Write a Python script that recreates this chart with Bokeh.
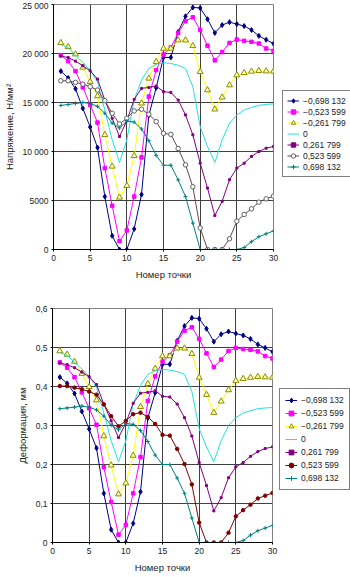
from bokeh.plotting import figure
from bokeh.layouts import column, row
from bokeh.models import Range1d, FixedTicker, Legend, LegendItem
from bokeh.embed import file_html
from bokeh.resources import INLINE

points = list(range(1, 31))
series_labels = ["\u22120,698 132", "\u22120,523 599", "\u22120,261 799", "0",
                 "0,261 799", "0,523 599", "0,698 132"]

stress_n0698 = [18200, 17500, 16400, 14400, 12500, 10400, 5400, 1400, 0, 0, 2100, 5600, 13700, 16500, 19600,
                19600, 22200, 23800, 24700, 24650, 23500, 22100, 22900, 23200, 23000, 22800, 22400, 21800, 21400, 21000]
stress_n0524 = [19830, 19220, 18200, 16540, 14750, 12950, 8300, 4470, 850, 1950, 5400, 9400, 15600, 18300, 19900,
                20600, 22100, 23300, 23700, 22400, 20800, 19300, 20150, 21080, 21420, 21290, 21190, 21020, 20510, 20270]
stress_n0262 = [21090, 20680, 19930, 18580, 17120, 15660, 11700, 8480, 5320, 6510, 9560, 14920, 17460, 19150, 20510,
                20510, 21360, 21360, 20780, 18140, 16270, 14310, 15530, 16780, 17800, 18030, 18170, 18240, 18200, 18170]
stress_0 = [20900, 20600, 19830, 19100, 18300, 17100, 14240, 11190, 8880, 11190, 15250, 17290, 18480, 18900, 19050,
            18980, 18800, 18480, 16610, 12540, 10510, 8880, 11190, 12880, 13730, 14240, 14510, 14710, 14810, 14850]
stress_p0262 = [19730, 19590, 19220, 18750, 18240, 17390, 15250, 13390, 11530, 13150, 15320, 16440, 16540, 16680, 16100,
                16030, 15250, 13730, 11700, 8810, 6270, 3460, 4920, 7120, 8310, 8810, 9490, 10000, 10340, 10510]
stress_p0524 = [17220, 17220, 17050, 16880, 16610, 16270, 15190, 13900, 12810, 13390, 14140, 14310, 13800, 13050, 11850,
                11750, 10300, 8640, 6400, 2200, 0, 0, 0, 1090, 2890, 3570, 4150, 4830, 5170, 5440]
stress_p0698 = [14700, 14800, 14900, 15000, 14900, 14600, 13900, 12900, 12400, 13100, 13000, 12300, 11100, 9600, 8600,
                8600, 7100, 5400, 2700, 0, 0, 0, 0, 0, 0, 200, 800, 1300, 1600, 1900]

deform_n0698 = [0.424, 0.408, 0.382, 0.336, 0.291, 0.242, 0.126, 0.033, 0, 0, 0.049, 0.130, 0.319, 0.384, 0.457,
                0.457, 0.517, 0.555, 0.576, 0.574, 0.548, 0.515, 0.534, 0.541, 0.536, 0.531, 0.522, 0.508, 0.499, 0.489]
deform_n0524 = [0.462, 0.448, 0.424, 0.385, 0.344, 0.302, 0.193, 0.104, 0.020, 0.045, 0.126, 0.219, 0.363, 0.426, 0.464,
                0.480, 0.515, 0.543, 0.552, 0.522, 0.485, 0.450, 0.469, 0.491, 0.499, 0.496, 0.494, 0.490, 0.478, 0.472]
deform_n0262 = [0.491, 0.482, 0.464, 0.433, 0.399, 0.365, 0.273, 0.198, 0.124, 0.152, 0.223, 0.348, 0.407, 0.446, 0.478,
                0.478, 0.498, 0.498, 0.484, 0.423, 0.379, 0.333, 0.362, 0.391, 0.415, 0.420, 0.423, 0.425, 0.424, 0.423]
deform_0 = [0.487, 0.480, 0.462, 0.445, 0.426, 0.398, 0.332, 0.261, 0.207, 0.261, 0.355, 0.403, 0.431, 0.440, 0.444,
            0.442, 0.438, 0.431, 0.387, 0.292, 0.245, 0.207, 0.261, 0.300, 0.320, 0.332, 0.338, 0.343, 0.345, 0.346]
deform_p0262 = [0.460, 0.456, 0.448, 0.437, 0.425, 0.405, 0.355, 0.312, 0.269, 0.306, 0.357, 0.383, 0.385, 0.389, 0.375,
                0.373, 0.355, 0.320, 0.273, 0.205, 0.146, 0.081, 0.115, 0.166, 0.194, 0.205, 0.221, 0.233, 0.241, 0.245]
deform_p0524 = [0.401, 0.401, 0.397, 0.393, 0.387, 0.379, 0.354, 0.324, 0.298, 0.312, 0.329, 0.333, 0.322, 0.304, 0.276,
                0.274, 0.240, 0.201, 0.149, 0.051, 0, 0, 0, 0.025, 0.067, 0.083, 0.097, 0.113, 0.120, 0.127]
deform_p0698 = [0.343, 0.345, 0.347, 0.350, 0.347, 0.340, 0.324, 0.301, 0.289, 0.305, 0.303, 0.287, 0.259, 0.224, 0.200,
                0.200, 0.165, 0.126, 0.063, 0, 0, 0, 0, 0, 0, 0.005, 0.019, 0.030, 0.037, 0.044]

x_ticks = [0, 5, 10, 15, 20, 25, 30]
stress_ticks = [0, 5000, 10000, 15000, 20000, 25000]
stress_tick_labels = ["0", "5000", "10 000", "15 000", "20 000", "25 000"]
deform_ticks = [0, 0.1, 0.2, 0.3, 0.4, 0.5, 0.6]
deform_tick_labels = ["0", "0,1", "0,2", "0,3", "0,4", "0,5", "0,6"]

FONT = "Liberation Sans"

# style per series: line color, marker, marker size, marker line, marker fill
top_styles = [
    ("#000080", "diamond", 5, "#000080", "#000080"),
    ("#FF00FF", "square", 3.5, "#FF00FF", "#FF00FF"),
    ("#FFFF00", "triangle", 6, "#8c8c00", "#ffffb0"),
    ("#22E0E0", None, 0, None, None),
    ("#800080", "square", 2, "#800080", "#800080"),
    ("#6a4646", "circle", 4.5, "#606060", "#ffffff"),
    ("#008080", "cross", 4, "#008080", "#008080"),
]
bottom_styles = [
    ("#000080", "diamond", 5, "#000080", "#000080"),
    ("#FF00FF", "square", 3.5, "#FF00FF", "#FF00FF"),
    ("#FFFF00", "triangle", 6, "#8c8c00", "#ffffb0"),
    ("#22E0E0", None, 0, None, None),
    ("#800080", "square", 2, "#800080", "#800080"),
    ("#800000", "circle", 3.5, "#800000", "#800000"),
    ("#008080", "cross", 4, "#008080", "#008080"),
]


def draw_series(p, xs, vals, st):
    lc, mk, ms, mlc, mfc = st
    rs = [p.line(xs, vals, line_color=lc, line_width=1)]
    if mk is not None:
        rs.append(p.scatter(xs, vals, marker=mk, size=ms, line_color=mlc,
                            fill_color=mfc, line_width=1))
    return rs


def make_fig(series, styles, yticks, ylabels, yend, ytitle, width, height, bl, br, bt, bb):
    p = figure(width=width, height=height, output_backend="svg", toolbar_location=None,
               x_range=Range1d(0, 30), y_range=Range1d(0, yend),
               min_border_left=bl, min_border_right=br, min_border_top=bt, min_border_bottom=bb)
    p.background_fill_color = "white"
    p.border_fill_color = "white"
    p.outline_line_color = "#808080"
    for vals, st in zip(series, styles):
        draw_series(p, points, vals, st)
    p.xaxis.ticker = FixedTicker(ticks=x_ticks)
    p.yaxis.ticker = FixedTicker(ticks=yticks)
    p.yaxis.major_label_overrides = {t: l for t, l in zip(yticks, ylabels)}
    for ax in (p.xaxis[0], p.yaxis[0]):
        ax.axis_line_color = "black"
        ax.major_tick_line_color = "black"
        ax.major_tick_out = 2
        ax.major_tick_in = 0
        ax.minor_tick_line_color = None
        ax.major_label_text_font = FONT
        ax.major_label_text_font_size = "8.5px"
        ax.major_label_text_color = "#222222"
        ax.major_label_standoff = 3
        ax.axis_label_text_font = FONT
        ax.axis_label_text_font_size = "9.5px"
        ax.axis_label_text_font_style = "normal"
        ax.axis_label_text_color = "#222222"
        ax.axis_label_standoff = 5
    p.xaxis.axis_label = "Номер точки"
    p.yaxis.axis_label = ytitle
    p.xgrid.grid_line_color = "#404040"
    p.ygrid.grid_line_color = "#404040"
    return p


def make_legend_fig(styles, width, height, bt, bb, loc, label_h, spacing, padding):
    # same top/bottom borders as the chart beside it, so the two frames line up
    q = figure(width=width, height=height, output_backend="svg", toolbar_location=None,
               x_range=Range1d(0, 1), y_range=Range1d(0, 1),
               x_axis_location=None, y_axis_location=None,
               min_border_left=0, min_border_right=0, min_border_top=bt, min_border_bottom=bb)
    q.outline_line_color = None
    q.xgrid.visible = False
    q.ygrid.visible = False
    q.background_fill_color = "white"
    q.border_fill_color = "white"
    items = []
    for st, lab in zip(styles, series_labels):
        # samples kept outside the visible range: only the legend glyphs are shown
        rs = draw_series(q, [-5, -4], [-5, -4], st)
        items.append(LegendItem(label=lab, renderers=rs))
    leg = Legend(items=items, location=loc)
    leg.border_line_color = "black"
    leg.border_line_width = 1
    leg.background_fill_color = "white"
    leg.background_fill_alpha = 1
    leg.label_text_font = FONT
    leg.label_text_font_size = "8.5px"
    leg.label_text_color = "#222222"
    leg.glyph_width = 12
    leg.glyph_height = label_h
    leg.label_height = label_h
    leg.spacing = spacing
    leg.padding = padding
    leg.margin = 0
    leg.label_standoff = 4
    q.add_layout(leg)
    return q


top = make_fig([stress_n0698, stress_n0524, stress_n0262, stress_0, stress_p0262, stress_p0524, stress_p0698],
               top_styles, stress_ticks, stress_tick_labels, 25000, "Напряжение, Н/мм²",
               280, 283, 49, 7, 4, 34)
top_leg = make_legend_fig(top_styles, 70, 283, 4, 34, (2, 72), 11, 0, 4)

bottom = make_fig([deform_n0698, deform_n0524, deform_n0262, deform_0, deform_p0262, deform_p0524, deform_p0698],
                  bottom_styles, deform_ticks, deform_tick_labels, 0.6, "Деформация, мм",
                  278, 294, 52, 6, 25, 35)
bottom_leg = make_legend_fig(bottom_styles, 72, 294, 25, 35, (1, 52), 12, 1, 5)

layout = column(row(top, top_leg, spacing=0), row(bottom, bottom_leg, spacing=0), spacing=0)
open("out.html", "w").write(file_html(layout, INLINE))
